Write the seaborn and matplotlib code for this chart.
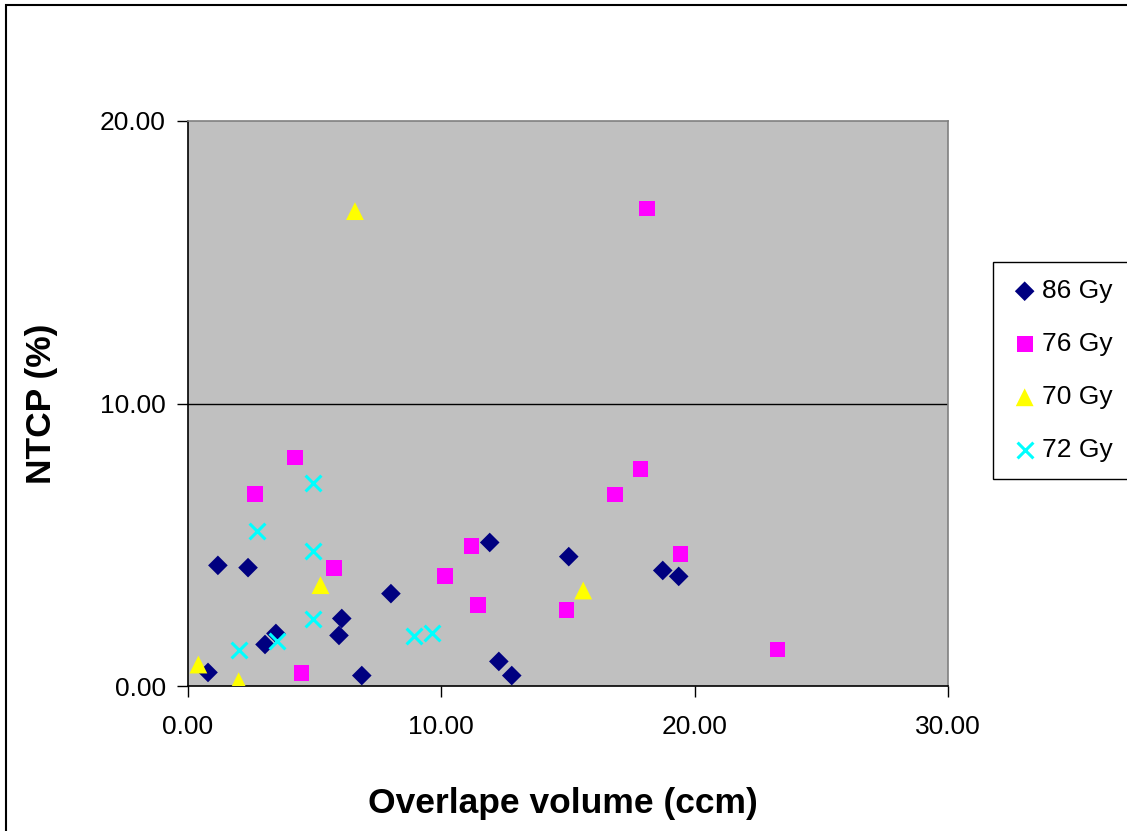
import matplotlib
matplotlib.use("Agg")
import matplotlib.pyplot as plt
import matplotlib.patches as mpatches
from matplotlib.ticker import FormatStrFormatter
import numpy as np
import pandas as pd
import seaborn as sns

# overlap volume (ccm) / NTCP (%) per dose group
x_86 = [0.79, 1.18, 2.37, 3.04, 3.47, 5.96, 6.07, 6.86, 8.01, 11.91, 12.27, 12.78, 15.03, 18.74, 19.37]
y_86 = [0.48, 4.27, 4.19, 1.47, 1.86, 1.79, 2.39, 0.37, 3.27, 5.08, 0.87, 0.37, 4.58, 4.09, 3.88]

x_76 = [2.64, 4.22, 4.48, 5.76, 10.14, 11.19, 11.45, 14.94, 16.87, 17.86, 18.11, 19.44, 23.27]
y_76 = [6.79, 8.09, 0.47, 4.17, 3.89, 4.97, 2.88, 2.68, 6.78, 7.69, 16.90, 4.68, 1.29]

x_70 = [0.41, 2.00, 5.23, 6.59, 15.60]
y_70 = [0.76, 0.17, 3.57, 16.81, 3.38]

x_72 = [2.02, 2.71, 3.52, 4.92, 4.94, 4.94, 8.93, 9.64]
y_72 = [1.29, 5.48, 1.59, 2.38, 4.77, 7.19, 1.76, 1.88]

groups = ["86 Gy", "76 Gy", "70 Gy", "72 Gy"]
colors = {"86 Gy": "#000080", "76 Gy": "#FF00FF", "70 Gy": "#FFFF00", "72 Gy": "#00FFFF"}
markers = {"86 Gy": "D", "76 Gy": "s", "70 Gy": "^", "72 Gy": "x"}
msizes = {"86 Gy": 100, "76 Gy": 130, "70 Gy": 165, "72 Gy": 130}

df = pd.concat([
    pd.DataFrame({"vol": x_86, "ntcp": y_86, "dose": "86 Gy"}),
    pd.DataFrame({"vol": x_76, "ntcp": y_76, "dose": "76 Gy"}),
    pd.DataFrame({"vol": x_70, "ntcp": y_70, "dose": "70 Gy"}),
    pd.DataFrame({"vol": x_72, "ntcp": y_72, "dose": "72 Gy"}),
], ignore_index=True)

sns.set_style("white")
plt.rcParams['font.family'] = ['Liberation Sans', 'DejaVu Sans']
plt.rcParams['text.color'] = 'black'
plt.rcParams['axes.labelcolor'] = 'black'
plt.rcParams['xtick.color'] = 'black'
plt.rcParams['ytick.color'] = 'black'

fig = plt.figure(figsize=(11.27, 8.31), dpi=100)
ax = fig.add_axes([188 / 1127, 1 - 686 / 831, 760 / 1127, 565 / 831])
ax.set_facecolor("#C0C0C0")

for g in groups:
    sub = df[df["dose"] == g]
    if markers[g] == "x":
        sns.scatterplot(data=sub, x="vol", y="ntcp", ax=ax, color=colors[g], marker="x",
                        s=msizes[g], linewidth=2.2, label=g, zorder=3)
    else:
        sns.scatterplot(data=sub, x="vol", y="ntcp", ax=ax, color=colors[g], marker=markers[g],
                        s=msizes[g], edgecolor="none", linewidth=0, label=g, zorder=3)

ax.set_xlim(0, 30)
ax.set_ylim(0, 20)
ax.set_xticks([0, 10, 20, 30])
ax.set_yticks([0, 10, 20])
ax.xaxis.set_major_formatter(FormatStrFormatter("%.2f"))
ax.yaxis.set_major_formatter(FormatStrFormatter("%.2f"))
ax.tick_params(axis="both", direction="out", length=8, width=1, color="black",
               labelsize=19, bottom=True, left=True)
ax.tick_params(axis="x", pad=13)
ax.tick_params(axis="y", pad=8)
ax.axhline(10, color="black", lw=1, zorder=1)

for side in ["left", "bottom"]:
    ax.spines[side].set_color("black")
    ax.spines[side].set_linewidth(1.2)
for side in ["top", "right"]:
    ax.spines[side].set_color("#808080")
    ax.spines[side].set_linewidth(1.2)

ax.set_xlabel("Overlape volume (ccm)", fontsize=25.5, fontweight="bold")
ax.set_ylabel("NTCP (%)", fontsize=25.5, fontweight="bold")
ax.xaxis.set_label_coords(0.493, -0.178)
ax.yaxis.set_label_coords(-0.171, 0.5)

handles, labels = ax.get_legend_handles_labels()
leg = ax.legend(handles, labels, loc="upper left",
                bbox_to_anchor=(993 / 1127, 1 - 478 / 831, 140 / 1127, 216 / 831),
                bbox_transform=fig.transFigure, mode="expand",
                fontsize=19, frameon=True, fancybox=False, framealpha=1,
                edgecolor="black", labelspacing=1.1, handletextpad=0.1,
                handlelength=1.1, borderpad=0.65, borderaxespad=0)
leg.get_frame().set_linewidth(1)

# outer chart border
fig.patches.append(mpatches.Rectangle((6 / 1127, -0.1), 1.2, 1 - 4.5 / 831 + 0.1,
                                      transform=fig.transFigure, fill=False,
                                      edgecolor="black", linewidth=1.5))

fig.savefig("out.png", dpi=100)
